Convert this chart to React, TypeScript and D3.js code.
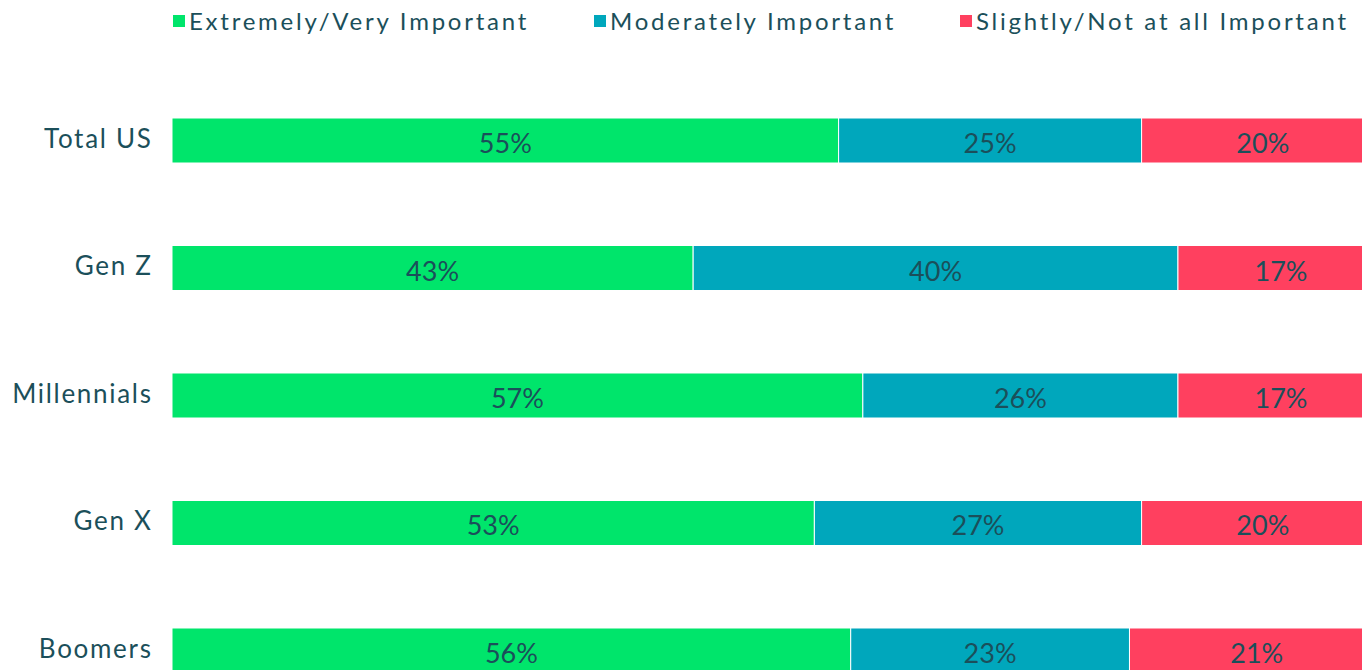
import React from "react";
import * as d3 from "d3";

const categories = ["Total US", "Gen Z", "Millennials", "Gen X", "Boomers"];
const seriesNames = ["Extremely/Very Important", "Moderately Important", "Slightly/Not at all Important"];
const extremely = [55, 43, 57, 53, 56];
const moderately = [25, 40, 26, 27, 23];
const slightly = [20, 17, 17, 20, 21];
const colors = ["#00E56B", "#00A7BC", "#FF405F"];
const legendX = [173, 594, 960];

export default function App() {
  const W = 1362, H = 670;
  const series = [extremely, moderately, slightly];
  const x = d3.scaleLinear().domain([0, 100]).range([172, 1384]);
  const y = d3.scaleBand().domain(categories).range([118, 673]).paddingInner(0.647).paddingOuter(0);
  const textColor = "#1B4F5A";
  const rows = categories.map((c, i) => {
    let acc = 0;
    return series.map((s, k) => {
      const x0 = acc;
      acc += s[i];
      return { c, k, x0, x1: acc, v: s[i] };
    });
  });
  return (
    <svg width={W} height={H} style={{ position: "absolute", left: 0, top: 0, overflow: "hidden" }}>
      {seriesNames.map((n, k) => (
        <g key={n}>
          <rect x={legendX[k]} y={15} width={12} height={12} fill={colors[k]} />
          <text x={legendX[k] + 16} y={30} fill={textColor} fontFamily="Lato" fontSize={24} letterSpacing={2.75}>{n}</text>
        </g>
      ))}
      {rows.map((segs, i) => {
        const cy = (y(categories[i]) as number) + y.bandwidth() / 2;
        return (
          <g key={categories[i]}>
            <text x={152.6} y={cy + 7.2} textAnchor="end" fill={textColor} fontFamily="Lato" fontSize={26} letterSpacing={1.7}>{categories[i]}</text>
            {segs.map((s) => (
              <g key={s.k}>
                <rect x={x(s.x0)} y={y(s.c)} width={x(s.x1) - x(s.x0)} height={y.bandwidth()} fill={colors[s.k]} stroke="#ffffff" strokeWidth={1} />
                <text x={(x(s.x0) + x(s.x1)) / 2} y={cy + 12.5} textAnchor="middle" fill={textColor} fontFamily="Lato" fontSize={27}>{s.v}%</text>
              </g>
            ))}
          </g>
        );
      })}
    </svg>
  );
}
